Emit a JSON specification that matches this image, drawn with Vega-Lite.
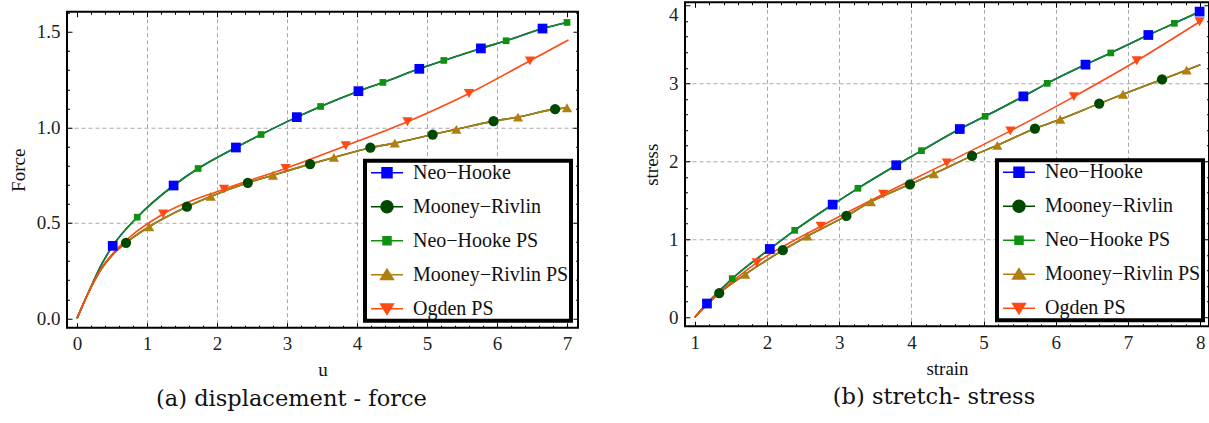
{
  "$schema": "https://vega.github.io/schema/vega-lite/v6.json",
  "padding": {"left": 8, "top": 0, "right": 0, "bottom": 0},
  "spacing": 61,
  "center": true,
  "background": "white",
  "datasets": {
    "left": [
      {"s":"Neo−Hooke","x":0,"y":0,"m":0},{"s":"Neo−Hooke","x":0.18,"y":0.15,"m":0},{"s":"Neo−Hooke","x":0.34,"y":0.275,"m":0},{"s":"Neo−Hooke","x":0.51,"y":0.38,"m":1},{"s":"Neo−Hooke","x":0.86,"y":0.53,"m":0},{"s":"Neo−Hooke","x":1.38,"y":0.696,"m":1},{"s":"Neo−Hooke","x":1.73,"y":0.785,"m":0},{"s":"Neo−Hooke","x":2.27,"y":0.895,"m":1},{"s":"Neo−Hooke","x":2.63,"y":0.963,"m":0},{"s":"Neo−Hooke","x":3.14,"y":1.054,"m":1},{"s":"Neo−Hooke","x":3.48,"y":1.11,"m":0},{"s":"Neo−Hooke","x":4.02,"y":1.19,"m":1},{"s":"Neo−Hooke","x":4.37,"y":1.236,"m":0},{"s":"Neo−Hooke","x":4.89,"y":1.307,"m":1},{"s":"Neo−Hooke","x":5.24,"y":1.351,"m":0},{"s":"Neo−Hooke","x":5.77,"y":1.414,"m":1},{"s":"Neo−Hooke","x":6.13,"y":1.454,"m":0},{"s":"Neo−Hooke","x":6.65,"y":1.518,"m":1},{"s":"Neo−Hooke","x":7.0,"y":1.55,"m":0},
      {"s":"Neo−Hooke PS","x":0,"y":0,"m":0},{"s":"Neo−Hooke PS","x":0.18,"y":0.15,"m":0},{"s":"Neo−Hooke PS","x":0.34,"y":0.275,"m":0},{"s":"Neo−Hooke PS","x":0.51,"y":0.38,"m":0},{"s":"Neo−Hooke PS","x":0.86,"y":0.53,"m":1},{"s":"Neo−Hooke PS","x":1.38,"y":0.696,"m":0},{"s":"Neo−Hooke PS","x":1.73,"y":0.785,"m":1},{"s":"Neo−Hooke PS","x":2.27,"y":0.895,"m":0},{"s":"Neo−Hooke PS","x":2.63,"y":0.963,"m":1},{"s":"Neo−Hooke PS","x":3.14,"y":1.054,"m":0},{"s":"Neo−Hooke PS","x":3.48,"y":1.11,"m":1},{"s":"Neo−Hooke PS","x":4.02,"y":1.19,"m":0},{"s":"Neo−Hooke PS","x":4.37,"y":1.236,"m":1},{"s":"Neo−Hooke PS","x":4.89,"y":1.307,"m":0},{"s":"Neo−Hooke PS","x":5.24,"y":1.351,"m":1},{"s":"Neo−Hooke PS","x":5.77,"y":1.414,"m":0},{"s":"Neo−Hooke PS","x":6.13,"y":1.454,"m":1},{"s":"Neo−Hooke PS","x":6.65,"y":1.518,"m":0},{"s":"Neo−Hooke PS","x":7.0,"y":1.55,"m":1},
      {"s":"Mooney−Rivlin","x":0,"y":0,"m":0},{"s":"Mooney−Rivlin","x":0.18,"y":0.148,"m":0},{"s":"Mooney−Rivlin","x":0.34,"y":0.255,"m":0},{"s":"Mooney−Rivlin","x":0.5,"y":0.33,"m":0},{"s":"Mooney−Rivlin","x":0.7,"y":0.396,"m":1},{"s":"Mooney−Rivlin","x":1.03,"y":0.48,"m":0},{"s":"Mooney−Rivlin","x":1.57,"y":0.585,"m":1},{"s":"Mooney−Rivlin","x":1.91,"y":0.639,"m":0},{"s":"Mooney−Rivlin","x":2.44,"y":0.71,"m":1},{"s":"Mooney−Rivlin","x":2.8,"y":0.75,"m":0},{"s":"Mooney−Rivlin","x":3.33,"y":0.808,"m":1},{"s":"Mooney−Rivlin","x":3.67,"y":0.843,"m":0},{"s":"Mooney−Rivlin","x":4.19,"y":0.894,"m":1},{"s":"Mooney−Rivlin","x":4.54,"y":0.918,"m":0},{"s":"Mooney−Rivlin","x":5.08,"y":0.963,"m":1},{"s":"Mooney−Rivlin","x":5.42,"y":0.99,"m":0},{"s":"Mooney−Rivlin","x":5.95,"y":1.033,"m":1},{"s":"Mooney−Rivlin","x":6.3,"y":1.054,"m":0},{"s":"Mooney−Rivlin","x":6.83,"y":1.096,"m":1},{"s":"Mooney−Rivlin","x":7.0,"y":1.103,"m":0},
      {"s":"Mooney−Rivlin PS","x":0,"y":0,"m":0},{"s":"Mooney−Rivlin PS","x":0.18,"y":0.148,"m":0},{"s":"Mooney−Rivlin PS","x":0.34,"y":0.255,"m":0},{"s":"Mooney−Rivlin PS","x":0.5,"y":0.33,"m":0},{"s":"Mooney−Rivlin PS","x":0.7,"y":0.396,"m":0},{"s":"Mooney−Rivlin PS","x":1.03,"y":0.48,"m":1},{"s":"Mooney−Rivlin PS","x":1.57,"y":0.585,"m":0},{"s":"Mooney−Rivlin PS","x":1.91,"y":0.639,"m":1},{"s":"Mooney−Rivlin PS","x":2.44,"y":0.71,"m":0},{"s":"Mooney−Rivlin PS","x":2.8,"y":0.75,"m":1},{"s":"Mooney−Rivlin PS","x":3.33,"y":0.808,"m":0},{"s":"Mooney−Rivlin PS","x":3.67,"y":0.843,"m":1},{"s":"Mooney−Rivlin PS","x":4.19,"y":0.894,"m":0},{"s":"Mooney−Rivlin PS","x":4.54,"y":0.918,"m":1},{"s":"Mooney−Rivlin PS","x":5.08,"y":0.963,"m":0},{"s":"Mooney−Rivlin PS","x":5.42,"y":0.99,"m":1},{"s":"Mooney−Rivlin PS","x":5.95,"y":1.033,"m":0},{"s":"Mooney−Rivlin PS","x":6.3,"y":1.054,"m":1},{"s":"Mooney−Rivlin PS","x":6.83,"y":1.096,"m":0},{"s":"Mooney−Rivlin PS","x":7.0,"y":1.103,"m":1},
      {"s":"Ogden PS","x":0,"y":0,"m":0},{"s":"Ogden PS","x":0.18,"y":0.148,"m":0},{"s":"Ogden PS","x":0.34,"y":0.258,"m":0},{"s":"Ogden PS","x":0.5,"y":0.335,"m":0},{"s":"Ogden PS","x":0.75,"y":0.425,"m":0},{"s":"Ogden PS","x":1.23,"y":0.547,"m":1},{"s":"Ogden PS","x":2.1,"y":0.677,"m":1},{"s":"Ogden PS","x":2.98,"y":0.785,"m":1},{"s":"Ogden PS","x":3.84,"y":0.904,"m":1},{"s":"Ogden PS","x":4.72,"y":1.03,"m":1},{"s":"Ogden PS","x":5.6,"y":1.178,"m":1},{"s":"Ogden PS","x":6.47,"y":1.349,"m":1},{"s":"Ogden PS","x":7.02,"y":1.458,"m":0}
    ],
    "right": [
      {"s":"Neo−Hooke","x":1,"y":0,"m":0},{"s":"Neo−Hooke","x":1.17,"y":0.176,"m":1},{"s":"Neo−Hooke","x":1.52,"y":0.496,"m":0},{"s":"Neo−Hooke","x":2.04,"y":0.876,"m":1},{"s":"Neo−Hooke","x":2.385,"y":1.115,"m":0},{"s":"Neo−Hooke","x":2.91,"y":1.445,"m":1},{"s":"Neo−Hooke","x":3.26,"y":1.654,"m":0},{"s":"Neo−Hooke","x":3.79,"y":1.95,"m":1},{"s":"Neo−Hooke","x":4.14,"y":2.137,"m":0},{"s":"Neo−Hooke","x":4.67,"y":2.414,"m":1},{"s":"Neo−Hooke","x":5.02,"y":2.577,"m":0},{"s":"Neo−Hooke","x":5.55,"y":2.833,"m":1},{"s":"Neo−Hooke","x":5.88,"y":3.0,"m":0},{"s":"Neo−Hooke","x":6.41,"y":3.24,"m":1},{"s":"Neo−Hooke","x":6.76,"y":3.39,"m":0},{"s":"Neo−Hooke","x":7.28,"y":3.62,"m":1},{"s":"Neo−Hooke","x":7.64,"y":3.77,"m":0},{"s":"Neo−Hooke","x":7.99,"y":3.92,"m":1},
      {"s":"Neo−Hooke PS","x":1,"y":0,"m":0},{"s":"Neo−Hooke PS","x":1.17,"y":0.176,"m":0},{"s":"Neo−Hooke PS","x":1.52,"y":0.496,"m":1},{"s":"Neo−Hooke PS","x":2.04,"y":0.876,"m":0},{"s":"Neo−Hooke PS","x":2.385,"y":1.115,"m":1},{"s":"Neo−Hooke PS","x":2.91,"y":1.445,"m":0},{"s":"Neo−Hooke PS","x":3.26,"y":1.654,"m":1},{"s":"Neo−Hooke PS","x":3.79,"y":1.95,"m":0},{"s":"Neo−Hooke PS","x":4.14,"y":2.137,"m":1},{"s":"Neo−Hooke PS","x":4.67,"y":2.414,"m":0},{"s":"Neo−Hooke PS","x":5.02,"y":2.577,"m":1},{"s":"Neo−Hooke PS","x":5.55,"y":2.833,"m":0},{"s":"Neo−Hooke PS","x":5.88,"y":3.0,"m":1},{"s":"Neo−Hooke PS","x":6.41,"y":3.24,"m":0},{"s":"Neo−Hooke PS","x":6.76,"y":3.39,"m":1},{"s":"Neo−Hooke PS","x":7.28,"y":3.62,"m":0},{"s":"Neo−Hooke PS","x":7.64,"y":3.77,"m":1},{"s":"Neo−Hooke PS","x":7.99,"y":3.92,"m":0},
      {"s":"Mooney−Rivlin","x":1,"y":0,"m":0},{"s":"Mooney−Rivlin","x":1.34,"y":0.31,"m":1},{"s":"Mooney−Rivlin","x":1.7,"y":0.55,"m":0},{"s":"Mooney−Rivlin","x":2.22,"y":0.86,"m":1},{"s":"Mooney−Rivlin","x":2.56,"y":1.04,"m":0},{"s":"Mooney−Rivlin","x":3.1,"y":1.3,"m":1},{"s":"Mooney−Rivlin","x":3.44,"y":1.48,"m":0},{"s":"Mooney−Rivlin","x":3.98,"y":1.705,"m":1},{"s":"Mooney−Rivlin","x":4.31,"y":1.84,"m":0},{"s":"Mooney−Rivlin","x":4.84,"y":2.07,"m":1},{"s":"Mooney−Rivlin","x":5.19,"y":2.205,"m":0},{"s":"Mooney−Rivlin","x":5.71,"y":2.42,"m":1},{"s":"Mooney−Rivlin","x":6.06,"y":2.54,"m":0},{"s":"Mooney−Rivlin","x":6.6,"y":2.74,"m":1},{"s":"Mooney−Rivlin","x":6.93,"y":2.86,"m":0},{"s":"Mooney−Rivlin","x":7.47,"y":3.05,"m":1},{"s":"Mooney−Rivlin","x":7.81,"y":3.17,"m":0},{"s":"Mooney−Rivlin","x":8.0,"y":3.24,"m":0},
      {"s":"Mooney−Rivlin PS","x":1,"y":0,"m":0},{"s":"Mooney−Rivlin PS","x":1.34,"y":0.31,"m":0},{"s":"Mooney−Rivlin PS","x":1.7,"y":0.55,"m":1},{"s":"Mooney−Rivlin PS","x":2.22,"y":0.86,"m":0},{"s":"Mooney−Rivlin PS","x":2.56,"y":1.04,"m":1},{"s":"Mooney−Rivlin PS","x":3.1,"y":1.3,"m":0},{"s":"Mooney−Rivlin PS","x":3.44,"y":1.48,"m":1},{"s":"Mooney−Rivlin PS","x":3.98,"y":1.705,"m":0},{"s":"Mooney−Rivlin PS","x":4.31,"y":1.84,"m":1},{"s":"Mooney−Rivlin PS","x":4.84,"y":2.07,"m":0},{"s":"Mooney−Rivlin PS","x":5.19,"y":2.205,"m":1},{"s":"Mooney−Rivlin PS","x":5.71,"y":2.42,"m":0},{"s":"Mooney−Rivlin PS","x":6.06,"y":2.54,"m":1},{"s":"Mooney−Rivlin PS","x":6.6,"y":2.74,"m":0},{"s":"Mooney−Rivlin PS","x":6.93,"y":2.86,"m":1},{"s":"Mooney−Rivlin PS","x":7.47,"y":3.05,"m":0},{"s":"Mooney−Rivlin PS","x":7.81,"y":3.17,"m":1},{"s":"Mooney−Rivlin PS","x":8.0,"y":3.24,"m":0},
      {"s":"Ogden PS","x":1,"y":0,"m":0},{"s":"Ogden PS","x":1.3,"y":0.28,"m":0},{"s":"Ogden PS","x":1.86,"y":0.7,"m":1},{"s":"Ogden PS","x":2.745,"y":1.167,"m":1},{"s":"Ogden PS","x":3.61,"y":1.58,"m":1},{"s":"Ogden PS","x":4.49,"y":1.98,"m":1},{"s":"Ogden PS","x":5.37,"y":2.39,"m":1},{"s":"Ogden PS","x":6.25,"y":2.83,"m":1},{"s":"Ogden PS","x":7.12,"y":3.29,"m":1},{"s":"Ogden PS","x":7.99,"y":3.79,"m":1}
    ]
  },
  "resolve": {"scale": {"color": "independent"}, "legend": {"color": "independent"}},
  "hconcat": [
    {
      "width": 511,
      "height": 316,
      "data": {"name": "left"},
      "title": {"text": "(a) displacement - force", "orient": "bottom", "dx": -31},
      "layer": [
        {
          "transform": [{"filter": "datum.s === 'Neo−Hooke' || datum.s === 'Mooney−Rivlin'"}],
          "mark": {"type": "line", "interpolate": "monotone", "strokeWidth": 1.6},
          "encoding": {
            "x": {"field": "x", "type": "quantitative", "scale": {"domain": [-0.143, 7.157], "nice": false, "zero": false},
              "axis": {"orient": "bottom", "title": "u", "values": [0,0.2,0.4,0.6,0.8,1,1.2,1.4,1.6,1.8,2,2.2,2.4,2.6,2.8,3,3.2,3.4,3.6,3.8,4,4.2,4.4,4.6,4.8,5,5.2,5.4,5.6,5.8,6,6.2,6.4,6.6,6.8,7],
                "labelExpr": "abs(datum.value-round(datum.value))<0.001 ? format(datum.value,'d') : ''",
                "tickSize": -5,
                "tickDash": {"condition": {"test": "abs(datum.value-round(datum.value))<0.001", "value": [6, 0]}, "value": [2.5, 10]},
                "grid": true,
                "gridOpacity": {"condition": {"test": "abs(datum.value-round(datum.value))<0.001 && datum.value>0.5 && datum.value<6.5", "value": 1}, "value": 0},
                "labelPadding": 12, "titlePadding": 7}},
            "y": {"field": "y", "type": "quantitative", "scale": {"domain": [-0.049, 1.606], "nice": false, "zero": false},
              "axis": {"orient": "left", "title": "Force", "values": [0,0.1,0.2,0.3,0.4,0.5,0.6,0.7,0.8,0.9,1,1.1,1.2,1.3,1.4,1.5,1.6],
                "labelExpr": "abs(datum.value*2-round(datum.value*2))<0.001 ? format(datum.value,'.1f') : ''",
                "tickSize": -5,
                "tickDash": {"condition": {"test": "abs(datum.value*2-round(datum.value*2))<0.001", "value": [6, 0]}, "value": [2.5, 10]},
                "grid": true,
                "gridOpacity": {"condition": {"test": "abs(datum.value*2-round(datum.value*2))<0.001 && datum.value>0.25 && datum.value<1.25", "value": 1}, "value": 0},
                "labelPadding": 12, "titlePadding": 8}},
            "color": {"field": "s", "type": "nominal", "scale": {"domain": ["Neo−Hooke","Mooney−Rivlin","Neo−Hooke PS","Mooney−Rivlin PS","Ogden PS"], "range": ["#0000ff","#004a00","#109010","#b07f10","#ff4a14"]},
              "legend": {"orient": "bottom-right", "offset": 7, "title": null, "symbolSize": 256, "padding": 2, "rowPadding": 14, "symbolOffset": 10, "labelOffset": 16, "labelLimit": 400,
                "strokeColor": "black", "fillColor": "white",
                "encode": {
                  "legend": {"update": {"strokeWidth": {"value": 4}}},
                  "symbols": {"update": {
                    "shape": {"signal": "datum.value === 'Neo−Hooke' ? 'M-2,0H2M-0.625,-0.625H0.625V0.625H-0.625Z' : datum.value === 'Mooney−Rivlin' ? 'M-2,0H2M-0.75,0A0.75,0.75,0,1,0,0.75,0A0.75,0.75,0,1,0,-0.75,0Z' : datum.value === 'Neo−Hooke PS' ? 'M-2,0H2M-0.5,-0.5H0.5V0.5H-0.5Z' : datum.value === 'Mooney−Rivlin PS' ? 'M-2,0H2M0,-0.7L0.8,0.6H-0.8Z' : 'M-2,0H2M0,0.7L0.8,-0.6H-0.8Z'"},
                    "fill": {"signal": "datum.value === 'Neo−Hooke' ? '#0000ff' : datum.value === 'Mooney−Rivlin' ? '#004a00' : datum.value === 'Neo−Hooke PS' ? '#109010' : datum.value === 'Mooney−Rivlin PS' ? '#b07f10' : '#ff4a14'"},
                    "stroke": {"signal": "datum.value === 'Neo−Hooke' ? '#0000ff' : datum.value === 'Mooney−Rivlin' ? '#004a00' : datum.value === 'Neo−Hooke PS' ? '#109010' : datum.value === 'Mooney−Rivlin PS' ? '#b07f10' : '#ff4a14'"},
                    "strokeWidth": {"value": 1.5},
                    "size": {"value": 256},
                    "opacity": {"value": 1}
                  }}
                }}}
          }
        },
        {
          "transform": [{"filter": "datum.s !== 'Neo−Hooke' && datum.s !== 'Mooney−Rivlin'"}],
          "mark": {"type": "line", "interpolate": "monotone", "strokeWidth": 1.6},
          "encoding": {
            "x": {"field": "x", "type": "quantitative", "axis": null},
            "y": {"field": "y", "type": "quantitative", "axis": null},
            "color": {"field": "s", "type": "nominal"}
          }
        },
        {
          "transform": [{"filter": "datum.m == 1 && datum.s === 'Neo−Hooke'"}],
          "mark": {"type": "point", "filled": true, "opacity": 1, "shape": "square", "size": 95},
          "encoding": {
            "x": {"field": "x", "type": "quantitative",
              "axis": {"orient": "top", "title": null, "labels": false, "values": [0,0.2,0.4,0.6,0.8,1,1.2,1.4,1.6,1.8,2,2.2,2.4,2.6,2.8,3,3.2,3.4,3.6,3.8,4,4.2,4.4,4.6,4.8,5,5.2,5.4,5.6,5.8,6,6.2,6.4,6.6,6.8,7],
                "tickSize": -5,
                "tickDash": {"condition": {"test": "abs(datum.value-round(datum.value))<0.001", "value": [6, 0]}, "value": [2.5, 10]},
                "grid": false}},
            "y": {"field": "y", "type": "quantitative",
              "axis": {"orient": "right", "title": null, "labels": false, "values": [0,0.1,0.2,0.3,0.4,0.5,0.6,0.7,0.8,0.9,1,1.1,1.2,1.3,1.4,1.5,1.6],
                "tickSize": -5,
                "tickDash": {"condition": {"test": "abs(datum.value*2-round(datum.value*2))<0.001", "value": [6, 0]}, "value": [2.5, 10]},
                "grid": false}},
            "color": {"field": "s", "type": "nominal"}
          }
        },
        {
          "transform": [{"filter": "datum.m == 1 && datum.s === 'Mooney−Rivlin'"}],
          "mark": {"type": "point", "filled": true, "opacity": 1, "shape": "circle", "size": 105},
          "encoding": {"x": {"field": "x", "type": "quantitative", "axis": null}, "y": {"field": "y", "type": "quantitative", "axis": null}, "color": {"field": "s", "type": "nominal"}}
        },
        {
          "transform": [{"filter": "datum.m == 1 && datum.s === 'Neo−Hooke PS'"}],
          "mark": {"type": "point", "filled": true, "opacity": 1, "shape": "square", "size": 45},
          "encoding": {"x": {"field": "x", "type": "quantitative", "axis": null}, "y": {"field": "y", "type": "quantitative", "axis": null}, "color": {"field": "s", "type": "nominal"}}
        },
        {
          "transform": [{"filter": "datum.m == 1 && datum.s === 'Mooney−Rivlin PS'"}],
          "mark": {"type": "point", "filled": true, "opacity": 1, "shape": "triangle-up", "size": 105},
          "encoding": {"x": {"field": "x", "type": "quantitative", "axis": null}, "y": {"field": "y", "type": "quantitative", "axis": null}, "color": {"field": "s", "type": "nominal"}}
        },
        {
          "transform": [{"filter": "datum.m == 1 && datum.s === 'Ogden PS'"}],
          "mark": {"type": "point", "filled": true, "opacity": 1, "shape": "triangle-down", "size": 105},
          "encoding": {"x": {"field": "x", "type": "quantitative", "axis": null}, "y": {"field": "y", "type": "quantitative", "axis": null}, "color": {"field": "s", "type": "nominal"}}
        }
      ]
    },
    {
      "width": 524,
      "height": 324,
      "data": {"name": "right"},
      "title": {"text": "(b) stretch- stress", "orient": "bottom", "dx": -13, "subtitle": ".", "subtitleColor": "white", "subtitleFontSize": 9, "subtitlePadding": 2},
      "layer": [
        {
          "transform": [{"filter": "datum.s === 'Neo−Hooke' || datum.s === 'Mooney−Rivlin'"}],
          "mark": {"type": "line", "interpolate": "monotone", "strokeWidth": 1.6},
          "encoding": {
            "x": {"field": "x", "type": "quantitative", "scale": {"domain": [0.866, 8.12], "nice": false, "zero": false},
              "axis": {"orient": "bottom", "title": "strain", "values": [1,1.2,1.4,1.6,1.8,2,2.2,2.4,2.6,2.8,3,3.2,3.4,3.6,3.8,4,4.2,4.4,4.6,4.8,5,5.2,5.4,5.6,5.8,6,6.2,6.4,6.6,6.8,7,7.2,7.4,7.6,7.8,8],
                "labelExpr": "abs(datum.value-round(datum.value))<0.001 ? format(datum.value,'d') : ''",
                "tickSize": -5,
                "tickDash": {"condition": {"test": "abs(datum.value-round(datum.value))<0.001", "value": [6, 0]}, "value": [2.5, 10]},
                "grid": true,
                "gridOpacity": {"condition": {"test": "abs(datum.value-round(datum.value))<0.001 && datum.value>1.5 && datum.value<7.5", "value": 1}, "value": 0},
                "labelPadding": 12, "titlePadding": 7}},
            "y": {"field": "y", "type": "quantitative", "scale": {"domain": [-0.115, 4.04], "nice": false, "zero": false},
              "axis": {"orient": "left", "title": "stress", "values": [0,0.2,0.4,0.6,0.8,1,1.2,1.4,1.6,1.8,2,2.2,2.4,2.6,2.8,3,3.2,3.4,3.6,3.8,4],
                "labelExpr": "abs(datum.value-round(datum.value))<0.001 ? format(datum.value,'d') : ''",
                "tickSize": -5,
                "tickDash": {"condition": {"test": "abs(datum.value-round(datum.value))<0.001", "value": [6, 0]}, "value": [2.5, 10]},
                "grid": true, "labelFlush": 5,
                "gridOpacity": {"condition": {"test": "abs(datum.value-round(datum.value))<0.001 && datum.value>0.5 && datum.value<3.5", "value": 1}, "value": 0},
                "labelPadding": 12, "titlePadding": 7}},
            "color": {"field": "s", "type": "nominal", "scale": {"domain": ["Neo−Hooke","Mooney−Rivlin","Neo−Hooke PS","Mooney−Rivlin PS","Ogden PS"], "range": ["#0000ff","#004a00","#109010","#b07f10","#ff4a14"]},
              "legend": {"orient": "bottom-right", "offset": 6, "title": null, "symbolSize": 256, "padding": 2, "rowPadding": 14, "symbolOffset": 10, "labelOffset": 16, "labelLimit": 400,
                "strokeColor": "black", "fillColor": "white",
                "encode": {
                  "legend": {"update": {"strokeWidth": {"value": 4}}},
                  "symbols": {"update": {
                    "shape": {"signal": "datum.value === 'Neo−Hooke' ? 'M-2,0H2M-0.625,-0.625H0.625V0.625H-0.625Z' : datum.value === 'Mooney−Rivlin' ? 'M-2,0H2M-0.75,0A0.75,0.75,0,1,0,0.75,0A0.75,0.75,0,1,0,-0.75,0Z' : datum.value === 'Neo−Hooke PS' ? 'M-2,0H2M-0.5,-0.5H0.5V0.5H-0.5Z' : datum.value === 'Mooney−Rivlin PS' ? 'M-2,0H2M0,-0.7L0.8,0.6H-0.8Z' : 'M-2,0H2M0,0.7L0.8,-0.6H-0.8Z'"},
                    "fill": {"signal": "datum.value === 'Neo−Hooke' ? '#0000ff' : datum.value === 'Mooney−Rivlin' ? '#004a00' : datum.value === 'Neo−Hooke PS' ? '#109010' : datum.value === 'Mooney−Rivlin PS' ? '#b07f10' : '#ff4a14'"},
                    "stroke": {"signal": "datum.value === 'Neo−Hooke' ? '#0000ff' : datum.value === 'Mooney−Rivlin' ? '#004a00' : datum.value === 'Neo−Hooke PS' ? '#109010' : datum.value === 'Mooney−Rivlin PS' ? '#b07f10' : '#ff4a14'"},
                    "strokeWidth": {"value": 1.5},
                    "size": {"value": 256},
                    "opacity": {"value": 1}
                  }}
                }}}
          }
        },
        {
          "transform": [{"filter": "datum.s !== 'Neo−Hooke' && datum.s !== 'Mooney−Rivlin'"}],
          "mark": {"type": "line", "interpolate": "monotone", "strokeWidth": 1.6},
          "encoding": {
            "x": {"field": "x", "type": "quantitative", "axis": null},
            "y": {"field": "y", "type": "quantitative", "axis": null},
            "color": {"field": "s", "type": "nominal"}
          }
        },
        {
          "transform": [{"filter": "datum.m == 1 && datum.s === 'Neo−Hooke'"}],
          "mark": {"type": "point", "filled": true, "opacity": 1, "shape": "square", "size": 95},
          "encoding": {
            "x": {"field": "x", "type": "quantitative",
              "axis": {"orient": "top", "title": null, "labels": false, "values": [1,1.2,1.4,1.6,1.8,2,2.2,2.4,2.6,2.8,3,3.2,3.4,3.6,3.8,4,4.2,4.4,4.6,4.8,5,5.2,5.4,5.6,5.8,6,6.2,6.4,6.6,6.8,7,7.2,7.4,7.6,7.8,8],
                "tickSize": -5,
                "tickDash": {"condition": {"test": "abs(datum.value-round(datum.value))<0.001", "value": [6, 0]}, "value": [2.5, 10]},
                "grid": false}},
            "y": {"field": "y", "type": "quantitative",
              "axis": {"orient": "right", "title": null, "labels": false, "values": [0,0.2,0.4,0.6,0.8,1,1.2,1.4,1.6,1.8,2,2.2,2.4,2.6,2.8,3,3.2,3.4,3.6,3.8,4],
                "tickSize": -5,
                "tickDash": {"condition": {"test": "abs(datum.value-round(datum.value))<0.001", "value": [6, 0]}, "value": [2.5, 10]},
                "grid": false}},
            "color": {"field": "s", "type": "nominal"}
          }
        },
        {
          "transform": [{"filter": "datum.m == 1 && datum.s === 'Mooney−Rivlin'"}],
          "mark": {"type": "point", "filled": true, "opacity": 1, "shape": "circle", "size": 105},
          "encoding": {"x": {"field": "x", "type": "quantitative", "axis": null}, "y": {"field": "y", "type": "quantitative", "axis": null}, "color": {"field": "s", "type": "nominal"}}
        },
        {
          "transform": [{"filter": "datum.m == 1 && datum.s === 'Neo−Hooke PS'"}],
          "mark": {"type": "point", "filled": true, "opacity": 1, "shape": "square", "size": 45},
          "encoding": {"x": {"field": "x", "type": "quantitative", "axis": null}, "y": {"field": "y", "type": "quantitative", "axis": null}, "color": {"field": "s", "type": "nominal"}}
        },
        {
          "transform": [{"filter": "datum.m == 1 && datum.s === 'Mooney−Rivlin PS'"}],
          "mark": {"type": "point", "filled": true, "opacity": 1, "shape": "triangle-up", "size": 105},
          "encoding": {"x": {"field": "x", "type": "quantitative", "axis": null}, "y": {"field": "y", "type": "quantitative", "axis": null}, "color": {"field": "s", "type": "nominal"}}
        },
        {
          "transform": [{"filter": "datum.m == 1 && datum.s === 'Ogden PS'"}],
          "mark": {"type": "point", "filled": true, "opacity": 1, "shape": "triangle-down", "size": 105},
          "encoding": {"x": {"field": "x", "type": "quantitative", "axis": null}, "y": {"field": "y", "type": "quantitative", "axis": null}, "color": {"field": "s", "type": "nominal"}}
        }
      ]
    }
  ],
  "config": {
    "font": "Liberation Serif",
    "view": {"stroke": "black", "strokeWidth": 2},
    "axis": {"domain": false, "labelFont": "Liberation Serif", "labelFontSize": 19, "labelColor": "#222", "titleFont": "Liberation Serif", "titleFontSize": 19, "titleFontWeight": "normal", "titleColor": "#111", "tickColor": "#000", "tickWidth": 1, "gridColor": "#a8a8a8", "gridDash": [4, 3], "gridWidth": 1, "labelOverlap": false, "labelFlush": false},
    "legend": {"labelFont": "Liberation Serif", "labelFontSize": 20, "labelColor": "#111"},
    "title": {"font": "DejaVu Serif", "fontSize": 22.5, "fontWeight": "normal", "color": "#111", "anchor": "middle", "offset": 8}
  }
}
